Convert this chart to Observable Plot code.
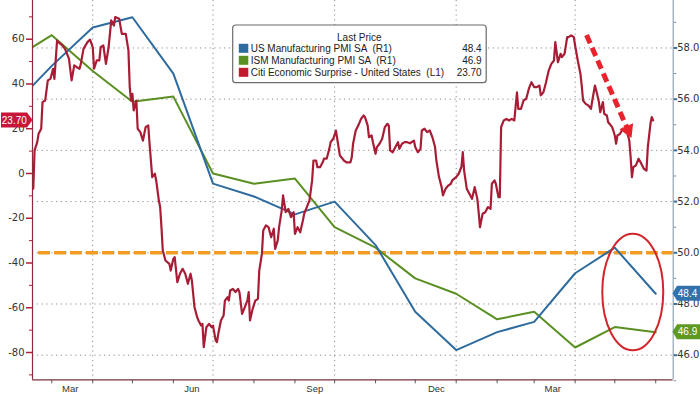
<!DOCTYPE html>
<html><head><meta charset="utf-8">
<script src="https://cdn.jsdelivr.net/npm/d3@7"></script>
<script src="https://cdn.jsdelivr.net/npm/@observablehq/plot@0.6"></script>
<style>body{margin:0;background:#fff;} #chart{width:700px;height:394px;overflow:hidden}</style>
</head><body><div id="chart"></div>
<script>
// ---------- data ----------
const citiDates = ["2022-02-15","2022-02-16","2022-02-18","2022-02-19","2022-02-21","2022-02-22","2022-02-24","2022-02-26","2022-02-28",
"2022-03-02","2022-03-03","2022-03-05","2022-03-06","2022-03-09","2022-03-11","2022-03-14","2022-03-16","2022-03-18","2022-03-20","2022-03-22","2022-03-23","2022-03-25","2022-03-28","2022-03-30",
"2022-04-01","2022-04-02","2022-04-04","2022-04-06","2022-04-07","2022-04-09","2022-04-11","2022-04-13","2022-04-15","2022-04-17","2022-04-18","2022-04-21","2022-04-23","2022-04-26","2022-04-28","2022-04-29","2022-04-30",
"2022-05-01","2022-05-02","2022-05-04","2022-05-05","2022-05-07","2022-05-09","2022-05-11","2022-05-13","2022-05-14","2022-05-16","2022-05-18","2022-05-19","2022-05-21","2022-05-22","2022-05-23","2022-05-24","2022-05-26","2022-05-29","2022-05-30",
"2022-06-01","2022-06-02","2022-06-04","2022-06-06","2022-06-08","2022-06-10","2022-06-12","2022-06-14","2022-06-15","2022-06-17","2022-06-19","2022-06-20","2022-06-22","2022-06-23","2022-06-24","2022-06-26","2022-06-28","2022-06-30",
"2022-07-01","2022-07-03","2022-07-04","2022-07-05","2022-07-07","2022-07-09","2022-07-10","2022-07-12","2022-07-13","2022-07-14","2022-07-16","2022-07-18","2022-07-20","2022-07-21","2022-07-23","2022-07-25","2022-07-27","2022-07-28","2022-07-29","2022-07-31",
"2022-08-02","2022-08-04","2022-08-05","2022-08-07","2022-08-08","2022-08-10","2022-08-12","2022-08-14","2022-08-16","2022-08-17","2022-08-19","2022-08-20","2022-08-22","2022-08-23","2022-08-25","2022-08-27","2022-08-29","2022-08-31",
"2022-09-01","2022-09-03","2022-09-05","2022-09-07","2022-09-08","2022-09-10","2022-09-12","2022-09-14","2022-09-15","2022-09-17","2022-09-18","2022-09-20","2022-09-22","2022-09-23","2022-09-25","2022-09-27","2022-09-28","2022-09-30",
"2022-10-02","2022-10-03","2022-10-05","2022-10-07","2022-10-08","2022-10-10","2022-10-13","2022-10-14","2022-10-15","2022-10-17","2022-10-19","2022-10-21","2022-10-23","2022-10-24","2022-10-26","2022-10-27","2022-10-29","2022-10-30",
"2022-11-01","2022-11-02","2022-11-04","2022-11-06","2022-11-08","2022-11-10","2022-11-11","2022-11-12","2022-11-14","2022-11-16","2022-11-18","2022-11-19","2022-11-21","2022-11-23","2022-11-25","2022-11-27","2022-11-30",
"2022-12-01","2022-12-03","2022-12-05","2022-12-06","2022-12-08","2022-12-10","2022-12-12","2022-12-14","2022-12-16","2022-12-17","2022-12-19","2022-12-21","2022-12-22","2022-12-24","2022-12-26","2022-12-28","2022-12-29",
"2023-01-01","2023-01-03","2023-01-05","2023-01-06","2023-01-07","2023-01-09","2023-01-11","2023-01-13","2023-01-15","2023-01-17","2023-01-18","2023-01-19","2023-01-21","2023-01-23","2023-01-25","2023-01-27","2023-01-28","2023-01-30","2023-01-31",
"2023-02-02","2023-02-03","2023-02-04","2023-02-06","2023-02-08","2023-02-10","2023-02-12","2023-02-14","2023-02-16","2023-02-17","2023-02-19","2023-02-21","2023-02-23","2023-02-25","2023-02-27",
"2023-03-01","2023-03-03","2023-03-05","2023-03-06","2023-03-08","2023-03-10","2023-03-12","2023-03-14","2023-03-16","2023-03-17","2023-03-19","2023-03-21","2023-03-22","2023-03-24","2023-03-26","2023-03-27","2023-03-29","2023-03-31",
"2023-04-01","2023-04-03","2023-04-05","2023-04-06","2023-04-07","2023-04-09","2023-04-11","2023-04-13","2023-04-14","2023-04-16","2023-04-17","2023-04-19","2023-04-20","2023-04-22","2023-04-23","2023-04-25","2023-04-26","2023-04-27","2023-04-29","2023-04-30",
"2023-05-01","2023-05-02","2023-05-03","2023-05-05","2023-05-07","2023-05-09","2023-05-10","2023-05-12","2023-05-13","2023-05-14","2023-05-15","2023-05-17","2023-05-19","2023-05-21","2023-05-23","2023-05-25","2023-05-26","2023-05-28","2023-05-29","2023-05-30"];
const citiValues = [-6.8,10.3,14,17.7,20,31.9,32.6,41.6,42.3,
46.8,42.3,59.4,58.7,57.2,55.7,51.3,41.6,48.3,47.5,46.8,49,55.7,58.7,59.8,
56.4,46.8,50.5,50.5,56.4,57.2,49,56.4,68.4,66.1,69.9,69.1,62.4,62.4,55,38.6,32.6,
35.6,28.2,32.6,20,18.5,14.7,20.7,21.5,13.3,-1.6,-0.1,-3.1,-12,-15,-24,-34.4,-38.9,-40.4,-43.4,
-38.1,-37.4,-48.6,-44.8,-42.6,-44.8,-49.3,-44.8,-47.8,-59.8,-64.2,-65.7,-67.9,-67.2,-77.6,-68.7,-67.2,-68.7,
-68,-74.6,-75.4,-71.6,-65.7,-63.5,-56.8,-55.3,-56.8,-52.3,-51.6,-53,-51.6,-53,-62.7,-59.8,-56.8,-53,-65.7,-60.5,
-56.8,-56,-43.4,-35.9,-25.5,-23.2,-24,-28.5,-24.7,-33.7,-29.9,-24,-16.5,-9.8,-17.3,-15.8,-19.5,-17.3,
-27,-24,-26.3,-21,-18,-15,-12,-3.1,5.8,5.8,2.8,2.8,5,6.6,6.6,11,14,15.5,
19.2,15.5,8,6.6,5.8,5,5,7.3,13.3,19.2,21.5,24.4,25.9,25.2,21.5,16.2,17,14,
8.8,11.8,13.3,15.5,20.7,22.2,21.5,10.3,9.5,11.8,14,11,13.3,14,14,13.5,14.7,
11.8,9.5,11,19.2,20,18.5,19.2,16.2,11.8,5.8,-1.6,-6.1,-9.8,-6.8,-5.4,-4.6,-3.1,
-1.6,0,3,9.5,1.3,-6.8,-9.1,-11.3,-6.1,-11.3,-17.3,-24,-18,-17.3,-15,-15.8,-4.6,-3.1,-4.6,
-10.6,-10.6,20.7,23.7,24.4,23.7,24.4,23.7,36.3,28.9,28.9,32.6,33.4,37.9,40.8,
38.6,38.6,39.3,34.9,36.3,40.8,46,49,50.5,58.7,49.7,53.5,52,53.5,60.9,60.9,61.7,60.9,
57.2,50.5,44.6,39.3,32.6,31.1,30.4,28.9,32.6,39.3,37.1,31.9,27.4,31.9,26.7,25.9,22.9,22.2,20.7,19,
17,13.3,17,17.7,20,18.5,19.2,14.7,7.3,-1.6,2.8,3.6,6.6,4.5,2.1,1.3,11.8,22.2,25.2,23.7];

const pmiDates = ["2022-02-01","2022-03-01","2022-04-01","2022-05-01","2022-06-01","2022-07-01","2022-08-01","2022-09-01","2022-10-01","2022-11-01","2022-12-01","2023-01-01","2023-02-01","2023-03-01","2023-04-01","2023-05-01","2023-06-01"];
const usPmiValues = [55.8,57.3,58.8,59.2,57.0,52.7,52.2,51.5,52.0,50.3,47.7,46.2,46.9,47.3,49.2,50.2,48.4];
const ismValues   = [57.6,58.5,57.1,55.9,56.1,53.1,52.7,52.9,51.0,50.2,49.0,48.4,47.4,47.7,46.3,47.1,46.9];

const leftTicks = [-80,-60,-40,-20,0,20,40,60];
const leftMinorTicks = [-90,-70,-50,-30,-10,10,30,50,70];
const rightTicks = [46,48,50,52,54,56,58];
const rightMinorTicks = [45,47,49,51,53,55,57,59];
const monthTickDates = ["2022-03-01","2022-04-01","2022-05-01","2022-06-01","2022-07-01","2022-08-01","2022-09-01","2022-10-01","2022-11-01","2022-12-01","2023-01-01","2023-02-01","2023-03-01","2023-04-01","2023-05-01","2023-06-01"];
const quarterDates = ["2022-04-01","2022-07-01","2022-10-01","2023-01-01","2023-04-01"];
const monthLabels = ["Mar","Jun","Sep","Dec","Mar"];
const monthLabelDates = ["2022-03-15","2022-06-15","2022-09-16","2022-12-17","2023-03-15"];
const pmiThreshold = 50;

const legendTitle = "Last Price";
const legendNames = ["US Manufacturing PMI SA  (R1)","ISM Manufacturing PMI SA  (R1)","Citi Economic Surprise - United States  (L1)"];
const legendValues = ["48.4","46.9","23.70"];
const lastCiti = 23.70, lastUs = 48.4, lastIsm = 46.9;

const arrowDates = ["2023-04-10","2023-05-14"];
const arrowValues = [61.7, 15.6];          // left-axis units
const ellipseDate = "2023-05-15";
const ellipsePmi = 48.45;                  // right-axis units

// ---------- colors ----------
const BLUE = "#2e6b9e", GREEN = "#5a8f22", RED = "#a81d36";

// right axis (PMI) -> left axis (Citi) units
const toL = r => -35.44 + 11.441 * (r - 50);
const rightLabel = new Map(rightTicks.map(r => [toL(r), r.toFixed(1)]));

const citi = citiDates.map((d, i) => ({date: new Date(d), value: citiValues[i]}));
const us = pmiDates.map((d, i) => ({date: new Date(d), value: toL(usPmiValues[i])}));
const ism = pmiDates.map((d, i) => ({date: new Date(d), value: toL(ismValues[i])}));

const x0 = new Date("2022-02-14T10:00:00Z"), x1 = new Date("2023-06-14T05:00:00Z");
const NUM = "'DejaVu Sans', sans-serif";
const SANS = "'Liberation Sans', Arial, sans-serif";

const plot = Plot.plot({
  width: 700, height: 394,
  marginLeft: 32, marginRight: 27.3, marginTop: 0, marginBottom: 14.7,
  x: {type: "utc", domain: [x0, x1], label: null},
  y: {domain: [-92.2, 77.3], label: null},
  style: {fontFamily: SANS, fontSize: "10px", background: "#fff", overflow: "visible"},
  marks: [
    Plot.ruleY(rightTicks.map(toL), {stroke: "#8c8c8c", strokeDasharray: "1.2,3.6", strokeWidth: 1}),
    Plot.ruleX(quarterDates.map(d => new Date(d)), {stroke: "#8c8c8c", strokeDasharray: "1.2,3.6", strokeWidth: 1}),
    Plot.ruleY([toL(pmiThreshold)], {stroke: "#f39a22", strokeWidth: 3.6, strokeDasharray: "12,4",
      x1: new Date("2022-02-19"), x2: x1}),
    Plot.line(ism, {x: "date", y: "value", stroke: GREEN, strokeWidth: 2, clip: true}),
    Plot.line(us, {x: "date", y: "value", stroke: BLUE, strokeWidth: 2, clip: true}),
    Plot.line(citi, {x: "date", y: "value", stroke: RED, strokeWidth: 2.2, clip: true, strokeLinejoin: "round"}),
    // axis lines
    Plot.ruleX([x0], {stroke: "#8e2a3c", strokeWidth: 1.2}),
    Plot.ruleX([x1], {stroke: "#8fa5b3", strokeWidth: 1.2}),
    Plot.ruleY([-92.2], {stroke: "#7a3040", strokeWidth: 1.2}),
    // left axis
    Plot.axisY(leftTicks, {anchor: "left", tickSize: 6, tickPadding: 2, stroke: "#b01e38", strokeWidth: 1.5,
      fill: "#333", fontFamily: NUM, fontSize: 10, tickFormat: d => String(d), label: null}),
    Plot.axisY(leftMinorTicks, {anchor: "left", tickSize: 3, stroke: "#b01e38", fill: "none", label: null}),
    // right axis
    Plot.axisY(rightTicks.map(toL), {anchor: "right", tickSize: 3.5, tickPadding: 0.5, stroke: "#3d6f96", strokeWidth: 2,
      fill: "#333", fontFamily: NUM, fontSize: 10, tickFormat: d => rightLabel.get(d), label: null}),
    Plot.axisY(rightMinorTicks.map(toL), {anchor: "right", tickSize: 2.5, stroke: "#7790a5", fill: "none", label: null}),
    // bottom axis
    Plot.axisX(monthTickDates.map(d => new Date(d)), {anchor: "bottom", tickSize: 4, stroke: "#555", fill: "none", label: null}),
    Plot.text(monthLabels, {x: (d, i) => new Date(monthLabelDates[i]), frameAnchor: "bottom", lineAnchor: "top",
      dy: 5.5, fill: "#333", fontSize: 9.5, fontFamily: SANS})
  ]
});
document.getElementById("chart").append(plot);

// ---------- annotations via the plot's scales ----------
const sx = plot.scale("x"), sy = plot.scale("y");
const svg = d3.select(plot);
const X = d => sx.apply(new Date(d)), Y = v => sy.apply(v);

// red dashed arrow
{
  const ax = X(arrowDates[0]), ay = Y(arrowValues[0]);
  const tx = X(arrowDates[1]), ty = Y(arrowValues[1]);
  const len = Math.hypot(tx - ax, ty - ay), ux = (tx - ax) / len, uy = (ty - ay) / len;
  const hl = 13, hw = 7.5;
  const bx = tx - ux * hl, by = ty - uy * hl;
  svg.append("line").attr("x1", ax).attr("y1", ay).attr("x2", bx + ux * 2).attr("y2", by + uy * 2)
    .attr("stroke", "#e8232d").attr("stroke-width", 5).attr("stroke-dasharray", "9,5");
  svg.append("path").attr("d", `M${tx},${ty}L${bx - uy * hw},${by + ux * hw}L${bx + uy * hw},${by - ux * hw}Z`)
    .attr("fill", "#e8232d");
}
// red ellipse
svg.append("ellipse").attr("cx", X(ellipseDate)).attr("cy", Y(toL(ellipsePmi)))
  .attr("rx", 30.5).attr("ry", 58.3).attr("fill", "none").attr("stroke", "#d3262b").attr("stroke-width", 2);

// legend
{
  const g = svg.append("g").attr("font-family", SANS).attr("font-size", 10).attr("fill", "#222")
    .attr("text-anchor", "start");
  g.append("rect").attr("x", 232.7).attr("y", 25).attr("width", 253.5).attr("height", 57.7).attr("rx", 3)
    .attr("fill", "#fff").attr("fill-opacity", 0.92).attr("stroke", "#6b6b6b").attr("stroke-width", 1.2);
  g.append("text").attr("x", 359.3).attr("y", 41).attr("text-anchor", "middle").text(legendTitle);
  const cols = [BLUE, GREEN, "#c41a30"];
  legendNames.forEach((n, i) => {
    const by = 52.3 + i * 12;
    g.append("rect").attr("x", 238.8).attr("y", by - 8.5).attr("width", 9.5).attr("height", 9).attr("fill", cols[i]);
    g.append("text").attr("x", 250.7).attr("y", by).attr("text-anchor", "start").style("white-space", "pre").text(n);
    g.append("text").attr("x", 481.7).attr("y", by).attr("text-anchor", "end").text(legendValues[i]);
  });
}

// last-value tags
function tag(side, yv, label, color) {
  const yc = Y(yv), h = 15;
  let d;
  if (side === "left") d = `M1,${yc - h/2}H27L32.5,${yc}L27,${yc + h/2}H1Z`;
  else d = `M672.5,${yc}L677,${yc - h/2}H700V${yc + h/2}H677Z`;
  svg.append("path").attr("d", d).attr("fill", color);
  svg.append("text").attr("x", side === "left" ? 14.3 : 687.5).attr("y", yc + 3.6)
    .attr("text-anchor", "middle").attr("fill", "#fff").attr("font-family", SANS).attr("font-size", 10)
    .text(label);
}
tag("left", lastCiti, lastCiti.toFixed(2), "#c8163a");
tag("right", toL(lastUs), lastUs.toFixed(1), "#3172ad");
tag("right", toL(lastIsm), lastIsm.toFixed(1), "#5e9a22");
</script></body></html>
